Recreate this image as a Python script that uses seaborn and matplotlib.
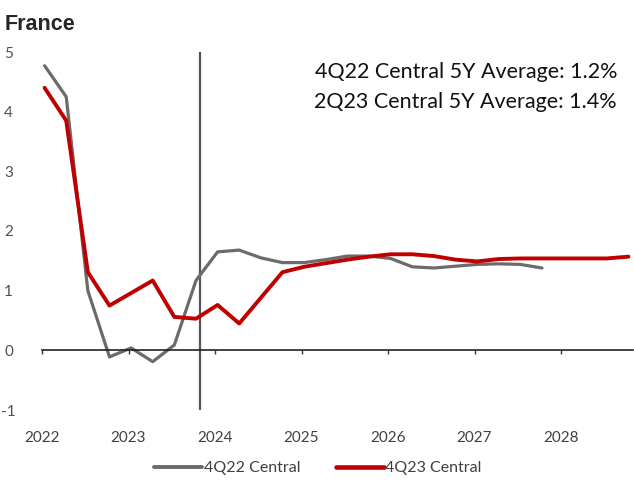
import numpy as np
import pandas as pd
import matplotlib
matplotlib.use("Agg")
import matplotlib.pyplot as plt
import seaborn as sns
from matplotlib.lines import Line2D

# ---- data ----
title = "France"
series_names = ["4Q22 Central", "4Q23 Central"]
quarters = [f"{y}Q{q}" for y in range(2022, 2029) for q in range(1, 5)]
gray_values = [4.77, 4.25, 1.00, -0.11, 0.04, -0.19, 0.09, 1.17,
               1.65, 1.68, 1.55, 1.47, 1.47, 1.52, 1.58, 1.58,
               1.54, 1.40, 1.38, 1.41, 1.44, 1.45, 1.44, 1.38]
red_values = [4.40, 3.85, 1.31, 0.75, 0.96, 1.17, 0.56, 0.53,
              0.76, 0.45, 0.88, 1.31, 1.40, 1.46, 1.52, 1.57,
              1.61, 1.61, 1.58, 1.52, 1.49, 1.53, 1.54, 1.54,
              1.54, 1.54, 1.54, 1.57]
year_ticks = [2022, 2023, 2024, 2025, 2026, 2027, 2028]
y_ticks = [-1, 0, 1, 2, 3, 4, 5]
annotations = ["4Q22 Central 5Y Average: 1.2%", "2Q23 Central 5Y Average: 1.4%"]
marker_quarter = "2023Q4"

# ---- build table ----
def q_to_x(q):
    y, n = q.split("Q")
    return int(y) + (int(n) - 1) * 0.25 + 0.03

rows = []
for name, vals in zip(series_names, [gray_values, red_values]):
    for q, v in zip(quarters, vals):
        rows.append({"x": q_to_x(q), "value": v, "series": name})
df = pd.DataFrame(rows)

sns.set_theme(style="white")
plt.rcParams["font.family"] = ["Lato", "DejaVu Sans"]

fig = plt.figure(figsize=(6.34, 4.8), dpi=100)
ax = fig.add_axes([42 / 634, 1 - 410 / 480, 591 / 634, 358 / 480])

palette = {"4Q22 Central": "#6b6b6b", "4Q23 Central": "#c00000"}
sns.lineplot(data=df, x="x", y="value", hue="series", palette=palette,
             estimator=None, sort=False, ax=ax, legend=False)
lws = {"4Q22 Central": 2.3, "4Q23 Central": 2.8}
for line, name in zip(ax.get_lines(), series_names):
    line.set_linewidth(lws[name])
    line.set_solid_joinstyle("round")

ax.axvline(q_to_x(marker_quarter) + 0.05, color="#555555", lw=1.6, zorder=1)

ax.set_xlim(2022, 2022 + 591 / 86.5)
ax.set_ylim(-1, 5)
ax.set_xticks(year_ticks)
ax.set_xticklabels([str(y) for y in year_ticks])
ax.set_yticks(y_ticks)
ax.set_yticklabels([str(v) for v in y_ticks])
ax.set_xlabel("")
ax.set_ylabel("")

for s in ["top", "right", "left"]:
    ax.spines[s].set_visible(False)
ax.spines["bottom"].set_position(("data", 0))
ax.spines["bottom"].set_color("#222222")
ax.spines["bottom"].set_linewidth(1.2)

ax.tick_params(axis="x", direction="out", length=3, width=1, color="#333333",
               pad=55, labelsize=11, labelcolor="#404040", bottom=True)
ax.tick_params(axis="y", length=0, pad=24, labelsize=11, labelcolor="#505050")
for t in ax.get_yticklabels():
    t.set_horizontalalignment("center")

ax.text(0.973, 0.944, annotations[0], transform=ax.transAxes, ha="right",
        va="center", fontsize=15.5, color="#111111")
ax.text(0.973, 0.860, annotations[1], transform=ax.transAxes, ha="right",
        va="center", fontsize=15.5, color="#111111")

fig.text(5 / 634, 1 - 24 / 480, title, ha="left", va="center",
         fontsize=15.5, fontweight="bold", family=["Liberation Sans", "DejaVu Sans"])

handles = [Line2D([], [], color=palette[n], lw=lws[n] + 0.5) for n in series_names]
fig.legend(handles, series_names, loc="center", bbox_to_anchor=(318 / 634, 1 - 468 / 480),
           ncol=2, frameon=False, handlelength=3.0, handletextpad=0.1,
           columnspacing=2.2, fontsize=11.5, labelcolor="#404040")

fig.savefig("out.png", dpi=100)
